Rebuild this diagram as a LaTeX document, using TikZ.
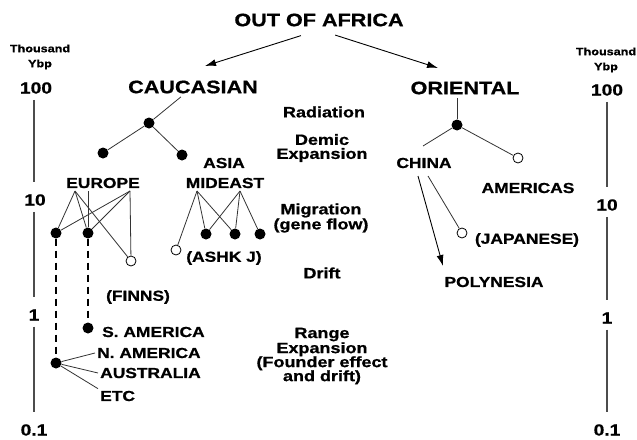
\documentclass[tikz,border=0pt]{standalone}
\usepackage{fontspec}
\setmainfont{Liberation Sans}[FakeStretch=1.2, BoldFeatures={FakeBold=0.8}]
\usetikzlibrary{positioning,calc,arrows.meta}

\begin{document}
\begin{tikzpicture}
            [
            x=1pt, y=-1pt,
            bigtext/.style={font=\bfseries\fontsize{18}{18}\selectfont},
            region/.style={font=\bfseries\fontsize{14.5}{14.5}\selectfont, inner sep=2pt},
            stage/.style={font=\bfseries\fontsize{15}{14}\selectfont, align=center, inner sep=1pt},
            scalenum/.style={font=\bfseries\fontsize{16}{16}\selectfont, inner sep=2pt},
            scalehead/.style={font=\bfseries\fontsize{10.5}{15}\selectfont, align=center, inner sep=1pt},
            my dot/.style={circle, fill, minimum width=11pt, inner sep=0pt},
            open dot/.style={circle, draw, line width=0.8pt, fill=white, minimum width=10pt, inner sep=0pt},
            limb/.style={line width=0.8pt, black!80},
            arr/.style={line width=0.9pt, -{Latex[length=11pt,width=7pt]}},
            axis/.style={line width=1.2pt, black!70, shorten <=4pt, shorten >=10pt}
            ]
            \useasboundingbox (0,0) rectangle (637,439);

            \node (africa) [bigtext] at (319,20) {OUT OF AFRICA};
            \node (cauc) [bigtext] at (193,87) {CAUCASIAN};
            \node (orient) [bigtext] at (465,88) {ORIENTAL};
            \coordinate (cauc in) at (205,66);
            \coordinate (orient in) at (438,68);
            \draw [arr, shorten <=19pt] (africa.south) -- (cauc in);
            \draw [arr, shorten <=17pt] (africa.south) -- (orient in);

            % Caucasian side
            \node (c0) [my dot] at (149,123) {};
            \node (c1) [my dot] at (103,153) {};
            \node (c2) [my dot] at (182,155) {};
            \node (asia) [region] at (224,163) {ASIA};
            \node (mideast) [region] at (225,183) {MIDEAST};
            \node (europe) [region] at (103,183) {EUROPE};
            \foreach \i/\j in {cauc/c0,c0/c1,c0/c2}
            \draw [limb] (\i) -- (\j);

            \coordinate (eA) at (75,191);
            \coordinate (eB) at (88,191);
            \coordinate (eC) at (130,191);
            \node (n1) [my dot] at (56,233) {};
            \node (n2) [my dot] at (88,233) {};
            \node (fin) [open dot] at (131,261) {};
            \foreach \i/\j in {eA/n1,eA/n2,eA/fin,eB/n2,eC/n1,eC/n2,eC/fin}
            \draw [limb] (\i) -- (\j);
            \node (finns) [region] at (138,297) {(FINNS)};

            \coordinate (mA) at (197,191);
            \coordinate (mB) at (240,191);
            \node (ashk) [open dot] at (176,250) {};
            \node (m1) [my dot] at (206,234) {};
            \node (m2) [my dot] at (235,234) {};
            \node (m3) [my dot] at (260,234) {};
            \foreach \i/\j in {mA/ashk,mA/m1,mA/m2,mB/m1,mB/m2,mB/m3}
            \draw [limb] (\i) -- (\j);
            \node (ashkj) [region] at (224,258) {(ASHK J)};

            \node (sam) [my dot] at (88,328) {};
            \node (nam) [my dot] at (56,363) {};
            \foreach \i/\j in {n1/nam,n2/sam}
            \draw [line width=1.1pt, dash pattern=on 7pt off 5pt] (\i) -- (\j);
            \node (samtxt) [region, anchor=west] at (100,332) {S. AMERICA};
            \node (namtxt) [region, anchor=west] at (95,353) {N. AMERICA};
            \node (austxt) [region, anchor=west] at (98,373) {AUSTRALIA};
            \node (etctxt) [region, anchor=west] at (98,396) {ETC};
            \draw [limb] (nam) -- (namtxt.west);
            \draw [limb] (nam) -- (austxt.west);
            \draw [limb] (nam) -- (etctxt.north west);

            % Stages
            \node (radiation) [stage] at (324,112) {Radiation};
            \node (demic) [stage] at (322,148) {Demic\\Expansion};
            \node (migration) [stage] at (321,218) {Migration\\(gene flow)};
            \node (drift) [stage] at (322,273) {Drift};
            \node (range) [stage] at (322,356) {Range\\Expansion\\(Founder effect\\and drift)};

            % Oriental side
            \node (o0) [my dot] at (457,125) {};
            \node (china) [region] at (424,163) {CHINA};
            \node (amer) [open dot] at (518,158) {};
            \node (americas) [region] at (528,188) {AMERICAS};
            \coordinate (china top) at (423,146);
            \draw [limb] (o0) -- (o0 |- orient.south);
            \foreach \i/\j in {o0/china top,o0/amer}
            \draw [limb] (\i) -- (\j);

            \coordinate (china a) at (418,176);
            \coordinate (china b) at (428,176);
            \node (jap) [open dot] at (462,233) {};
            \node (japtxt) [region] at (527,240) {(JAPANESE)};
            \node (poly) [region] at (494,282) {POLYNESIA};
            \coordinate (poly in) at (443,266);
            \draw [limb] (china b) -- (jap);
            \draw [arr] (china a) -- (poly in);

            % Time scales
            \node (lhead) [scalehead] at (40,57) {Thousand\\Ybp};
            \node (l100) [scalenum] at (36,88) {100};
            \node (l10) [scalenum] at (35,200) {10};
            \node (l1) [scalenum] at (34,315) {1};
            \node (l01) [scalenum] at (34,430) {0.1};
            \draw [axis] (l100.south -| l1) -- (l10.north -| l1);
            \draw [axis] (l10.south -| l1) -- (l1.north);
            \draw [axis] (l1.south) -- (l01.north);

            \node (rhead) [scalehead] at (606,60) {Thousand\\Ybp};
            \node (r100) [scalenum] at (607,90) {100};
            \node (r10) [scalenum] at (607,205) {10};
            \node (r1) [scalenum] at (607,318) {1};
            \node (r01) [scalenum] at (607,430) {0.1};
            \foreach \i/\j in {r100/r10,r10/r1,r1/r01}
            \draw [axis] (\i.south) -- (\j.north);
        \end{tikzpicture}
\end{document}
